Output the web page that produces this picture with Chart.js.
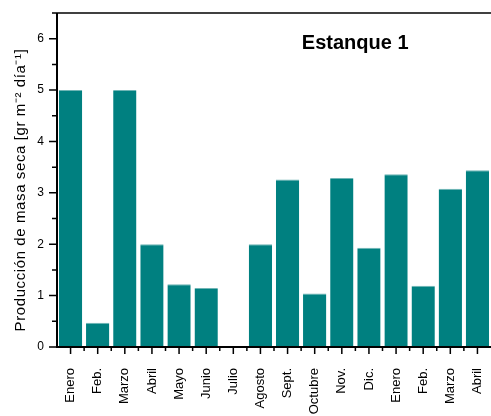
<!DOCTYPE html>
<html>
<head>
<meta charset="utf-8">
<script src="https://cdn.jsdelivr.net/npm/chart.js@4/dist/chart.umd.min.js"></script>
<style>
  html, body { margin: 0; padding: 0; background: #fff; }
  #wrap { width: 491px; height: 416px; }
</style>
</head>
<body>
<div id="wrap"><canvas id="bar-chart"></canvas></div>
<script>
var meses = ["Enero", "Feb.", "Marzo", "Abril", "Mayo", "Junio", "Julio", "Agosto",
             "Sept.", "Octubre", "Nov.", "Dic.", "Enero", "Feb.", "Marzo", "Abril"];
var produccion = [5.0, 0.47, 5.0, 2.0, 1.22, 1.15, 0, 2.0,
                  3.26, 1.04, 3.29, 1.93, 3.36, 1.19, 3.08, 3.44];
var yMin = 0, yMax = 6.5, yPaso = 0.5;
var titulo = "Estanque 1";
var ejeY = "Producción de masa seca [gr m⁻² día⁻¹]";

var fuente = "'Liberation Sans', Arial, sans-serif";

// axis frame, tick marks, panel title and y-axis caption
var marco = {
    id: "marco",
    afterDraw: function(chart) {
        var ctx = chart.ctx, ca = chart.chartArea;
        var x = chart.scales.x, y = chart.scales.y;
        ctx.save();
        ctx.strokeStyle = "#000";
        ctx.lineWidth = 1.5;
        ctx.beginPath();
        ctx.moveTo(ca.left, ca.top); ctx.lineTo(ca.right + 2, ca.top);
        ctx.stroke();
        ctx.lineWidth = 2;
        ctx.beginPath();
        ctx.moveTo(ca.left, ca.top); ctx.lineTo(ca.left, ca.bottom);
        ctx.lineTo(ca.right + 2, ca.bottom);
        ctx.stroke();
        ctx.lineWidth = 1.5;
        ctx.beginPath();
        y.ticks.forEach(function(t) {
            var py = y.getPixelForValue(t.value);
            var len = t.value % 1 === 0 ? 8 : 5;
            ctx.moveTo(ca.left - len, py); ctx.lineTo(ca.left, py);
        });
        var paso = x.getPixelForValue(1) - x.getPixelForValue(0);
        for (var i = 0; i < meses.length; i++) {
            var px = x.getPixelForValue(i);
            ctx.moveTo(px, ca.bottom); ctx.lineTo(px, ca.bottom + 7);
            if (i > 0) { ctx.moveTo(px - paso / 2, ca.bottom); ctx.lineTo(px - paso / 2, ca.bottom + 4); }
        }
        ctx.stroke();

        ctx.fillStyle = "#000";
        ctx.font = "bold 20px " + fuente;
        ctx.textAlign = "center";
        ctx.textBaseline = "alphabetic";
        ctx.fillText(titulo, ca.left + (ca.right - ca.left) * 0.687, 49);

        ctx.translate(25, (ca.top + ca.bottom) / 2 + 10);
        ctx.rotate(-Math.PI / 2);
        ctx.font = "15px " + fuente;
        ctx.letterSpacing = "0.6px";
        ctx.fillText(ejeY, 0, 0);
        ctx.restore();
    }
};

new Chart(document.getElementById("bar-chart"), {
    type: "bar",
    data: {
        labels: meses,
        datasets: [{
            data: produccion,
            backgroundColor: "#008080",
            borderColor: "#6fb5b5",
            borderWidth: { top: 1, left: 0, right: 0, bottom: 0 },
            borderSkipped: "bottom",
            barPercentage: 0.86,
            categoryPercentage: 1
        }]
    },
    options: {
        responsive: true,
        maintainAspectRatio: false,
        animation: false,
        layout: { padding: { top: 13, right: 0, left: 0, bottom: 0 } },
        plugins: { legend: { display: false }, tooltip: { enabled: false } },
        scales: {
            x: {
                grid: { display: false, drawTicks: false },
                border: { display: false },
                ticks: {
                    autoSkip: false, minRotation: 90, maxRotation: 90,
                    padding: 21, color: "#000",
                    font: { family: fuente, size: 13 }
                },
                afterFit: function(s) {
                    s.height = 69;
                    s.paddingLeft = 0; s.paddingRight = 0;
                }
            },
            y: {
                min: yMin, max: yMax,
                grid: { display: false, drawTicks: false },
                border: { display: false },
                ticks: {
                    stepSize: yPaso, padding: 13, color: "#000",
                    font: { family: fuente, size: 12 },
                    callback: function(v) { return v % 1 === 0 ? v : ""; }
                },
                afterFit: function(s) {
                    s.width = 57;
                    s.paddingTop = 0; s.paddingBottom = 0;
                }
            }
        }
    },
    plugins: [marco]
});
</script>
</body>
</html>
